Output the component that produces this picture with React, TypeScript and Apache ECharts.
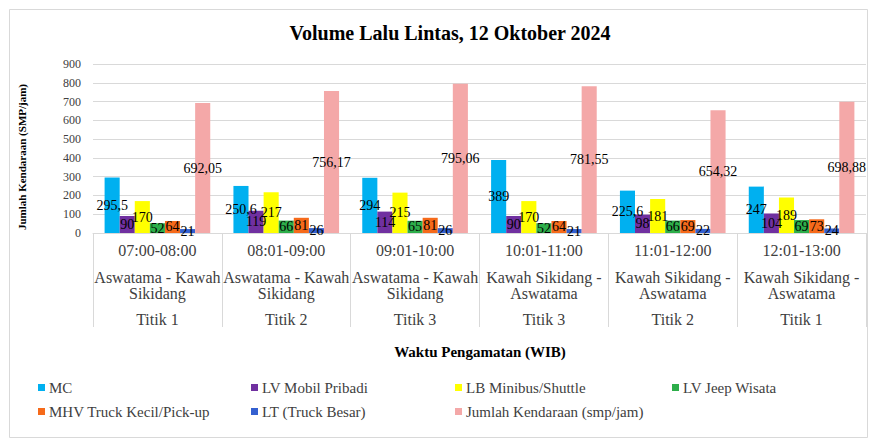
import React, { useEffect, useRef } from "react";
import * as echarts from "echarts";

const times = ["07:00-08:00", "08:01-09:00", "09:01-10:00", "10:01-11:00", "11:01-12:00", "12:01-13:00"];
const routes = [
  "Aswatama - Kawah\nSikidang",
  "Aswatama - Kawah\nSikidang",
  "Aswatama - Kawah\nSikidang",
  "Kawah Sikidang -\nAswatama",
  "Kawah Sikidang -\nAswatama",
  "Kawah Sikidang -\nAswatama",
];
const titik = ["Titik 1", "Titik 2", "Titik 3", "Titik 3", "Titik 2", "Titik 1"];

const seriesNames = [
  "MC",
  "LV Mobil Pribadi",
  "LB Minibus/Shuttle",
  "LV Jeep Wisata",
  "MHV Truck Kecil/Pick-up",
  "LT (Truck Besar)",
  "Jumlah Kendaraan (smp/jam)",
];
const mc = [295.5, 250.6, 294, 389, 225.6, 247];
const lvMobil = [90, 119, 114, 90, 98, 104];
const lbMinibus = [170, 217, 215, 170, 181, 189];
const lvJeep = [52, 66, 65, 52, 66, 69];
const mhvTruck = [64, 81, 81, 64, 69, 73];
const ltTruck = [21, 26, 26, 21, 22, 24];
const jumlah = [692.05, 756.17, 795.06, 781.55, 654.32, 698.88];
const yTicks = { min: 0, max: 900, interval: 100 };

const colors = ["#00B0F0", "#7030A0", "#FFFF00", "#2DAE4A", "#F66A1A", "#3460D0", "#F4A8A8"];
const seriesData = [mc, lvMobil, lbMinibus, lvJeep, mhvTruck, ltTruck, jumlah];

const FONT = "'Liberation Serif', 'Times New Roman', serif";

export default function App() {
  const ref = useRef<HTMLDivElement>(null);
  useEffect(() => {
    if (!ref.current) return;
    const chart = echarts.init(ref.current, null, { renderer: "svg" });
    const categories = times.map((t, i) => `${t}|${routes[i]}|${titik[i]}`);
    const legendPos = [
      [38, 380], [251, 380], [455, 380], [672, 380],
      [38, 404], [251, 404], [455, 404],
    ];
    chart.setOption({
      animation: false,
      textStyle: { fontFamily: FONT },
      grid: { left: 93, right: 6, top: 64, bottom: 208, containLabel: false },
      xAxis: {
        type: "category",
        data: categories,
        axisLine: { show: true, lineStyle: { color: "#d9d9d9" } },
        axisTick: { show: true, length: 94, interval: 0, lineStyle: { color: "#d9d9d9" } },
        axisLabel: {
          interval: 0,
          margin: 9,
          color: "#404040",
          fontFamily: FONT,
          formatter: (v: string) => {
            const [t, r, k] = v.split("|");
            const rl = r.split("\n");
            return `{t|${t}}\n{s| }\n{r|${rl[0]}}\n{r|${rl[1]}}\n{s2| }\n{t|${k}}`;
          },
          rich: {
            t: { fontSize: 16, lineHeight: 16, fontFamily: FONT, color: "#404040" },
            r: { fontSize: 16, lineHeight: 16, fontFamily: FONT, color: "#404040" },
            s: { fontSize: 2, lineHeight: 11 },
            s2: { fontSize: 2, lineHeight: 10 },
          },
        },
      },
      yAxis: {
        type: "value",
        min: yTicks.min,
        max: yTicks.max,
        interval: yTicks.interval,
        axisLine: { show: false },
        axisTick: { show: false },
        axisLabel: { fontSize: 12, color: "#404040", fontFamily: FONT, margin: 12 },
        splitLine: { lineStyle: { color: "#d9d9d9" } },
      },
      legend: seriesNames.map((n, i) => ({
        data: [n],
        left: legendPos[i][0],
        top: legendPos[i][1],
        icon: "rect",
        itemWidth: 7,
        itemHeight: 7,
        padding: 0,
        itemGap: 0,
        textStyle: { fontSize: 15, color: "#404040", fontFamily: FONT, padding: [0, 0, 0, -1] },
      })),
      graphic: [
        {
          type: "rect",
          shape: { x: 9.5, y: 9.5, width: 858, height: 428 },
          style: { fill: "none", stroke: "#d9d9d9", lineWidth: 1 },
          silent: true,
        },
        {
          type: "text",
          x: 450,
          y: 33,
          style: {
            text: "Volume Lalu Lintas, 12 Oktober 2024",
            font: `bold 20px ${FONT}`,
            fill: "#000",
            textAlign: "center",
            textVerticalAlign: "middle",
          },
        },
        {
          type: "text",
          x: 480,
          y: 352,
          style: {
            text: "Waktu Pengamatan (WIB)",
            font: `bold 15px ${FONT}`,
            fill: "#000",
            textAlign: "center",
            textVerticalAlign: "middle",
          },
        },
        {
          type: "text",
          x: 22,
          y: 157,
          rotation: Math.PI / 2,
          style: {
            text: "Jumlah Kendaraan (SMP/jam)",
            font: `bold 11px ${FONT}`,
            fill: "#000",
            textAlign: "center",
            textVerticalAlign: "middle",
          },
        },
      ],
      series: seriesNames.map((n, i) => ({
        name: n,
        type: "bar",
        data: seriesData[i],
        barGap: "0%",
        barCategoryGap: "18%",
        itemStyle: { color: colors[i] },
        label: {
          show: true,
          position: "inside",
          color: "#000",
          fontSize: 14,
          fontFamily: FONT,
          formatter: (p: any) => String(p.value).replace(".", ","),
        },
      })),
    });
    return () => chart.dispose();
  }, []);
  return (
    <div
      ref={ref}
      style={{ position: "fixed", left: 0, top: 0, width: 872, height: 441, background: "#fff" }}
    />
  );
}
